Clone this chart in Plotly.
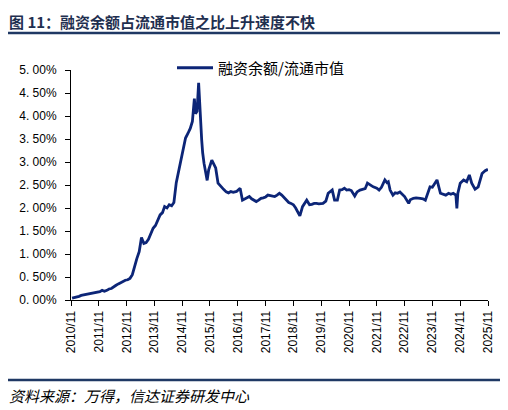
import plotly.graph_objects as go

dates = [
    "2010-11-15","2010-12-15","2011-01-15","2011-02-15","2011-03-15","2011-04-15","2011-05-15",
    "2011-06-15","2011-07-15","2011-08-15","2011-09-15","2011-10-15","2011-11-15","2011-12-15",
    "2012-01-15","2012-02-15","2012-03-15","2012-04-15","2012-05-15","2012-06-15","2012-07-15",
    "2012-08-15","2012-09-15","2012-10-15","2012-11-15","2012-12-15","2013-01-15","2013-02-15",
    "2013-03-15","2013-04-15","2013-05-15","2013-06-15","2013-07-15","2013-08-15","2013-09-15",
    "2013-10-15","2013-11-15","2013-12-15","2014-01-15","2014-02-15","2014-03-15","2014-04-15",
    "2014-05-15","2014-06-15","2014-07-15","2014-08-15","2014-09-15","2014-10-15","2014-11-15",
    "2014-12-15","2015-01-15","2015-02-15","2015-03-15","2015-04-10","2015-04-25","2015-05-15",
    "2015-06-05","2015-06-25","2015-07-15","2015-07-28","2015-08-15","2015-09-25","2015-10-15",
    "2015-11-25","2015-12-20","2016-01-15","2016-02-15","2016-03-25","2016-05-01","2016-06-01",
    "2016-07-01","2016-08-01","2016-09-01","2016-10-15","2016-12-01","2017-01-01","2017-02-01",
    "2017-03-01","2017-04-01","2017-05-01","2017-06-01","2017-07-01","2017-08-01","2017-09-01",
    "2017-10-01","2017-11-01","2017-12-01","2018-01-01","2018-02-01","2018-03-01","2018-04-01",
    "2018-05-01","2018-06-01","2018-07-01","2018-08-01","2018-09-01","2018-10-01","2018-11-01",
    "2018-12-01","2019-01-25","2019-02-15","2019-03-01","2019-04-25","2019-06-01","2019-07-01",
    "2019-08-01","2019-09-01","2019-10-01","2019-11-25","2020-01-01","2020-02-01","2020-03-25",
    "2020-04-25","2020-06-01","2020-07-01","2020-08-01","2020-09-01","2020-10-01","2020-11-01",
    "2020-12-01","2021-01-15","2021-02-15","2021-03-25","2021-05-01","2021-06-01","2021-07-01",
    "2021-08-01","2021-09-15","2021-11-01","2021-12-01","2022-01-01","2022-02-15","2022-03-15",
    "2022-04-01","2022-04-25","2022-06-01","2022-07-01","2022-08-01","2022-09-01","2022-10-01",
    "2022-11-01","2022-12-25","2023-01-15","2023-02-25","2023-04-01","2023-05-25","2023-07-01",
    "2023-08-01","2023-09-01","2023-10-01","2023-11-01","2023-12-01","2024-01-01","2024-02-15",
    "2024-03-15","2024-04-25","2024-06-01","2024-07-01","2024-08-01","2024-09-05","2024-09-18",
    "2024-10-01","2024-11-01","2024-12-15","2025-01-25","2025-03-01","2025-04-01","2025-05-15",
    "2025-06-25","2025-07-20","2025-08-15","2025-09-25","2025-10-31",
]

ratio_pct = [
    0.04,0.05,0.07,0.08,0.10,0.11,0.12,
    0.13,0.14,0.16,0.17,0.17,0.18,0.21,
    0.19,0.21,0.24,0.25,0.29,0.32,0.35,
    0.38,0.40,0.43,0.44,0.47,0.55,0.75,
    0.90,1.05,1.36,1.23,1.25,1.32,1.45,
    1.56,1.62,1.74,1.85,1.90,2.03,2.00,
    2.07,2.05,2.12,2.55,2.80,3.00,3.33,
    3.52,3.62,3.73,3.88,4.38,4.05,4.10,
    4.72,3.90,3.48,3.20,2.97,2.60,2.83,
    3.04,2.95,2.87,2.54,2.46,2.40,2.35,
    2.33,2.36,2.34,2.36,2.43,2.17,2.20,
    2.22,2.25,2.20,2.16,2.14,2.17,2.21,
    2.22,2.24,2.28,2.27,2.25,2.25,2.28,
    2.32,2.28,2.22,2.17,2.12,2.10,2.07,
    2.00,1.83,1.95,2.03,2.17,2.07,2.08,
    2.10,2.10,2.09,2.10,2.15,2.32,2.39,
    2.17,2.17,2.39,2.40,2.43,2.39,2.40,
    2.38,2.26,2.35,2.39,2.40,2.42,2.54,
    2.50,2.46,2.43,2.39,2.45,2.61,2.55,
    2.57,2.39,2.28,2.33,2.32,2.35,2.30,
    2.25,2.10,2.18,2.21,2.22,2.21,2.20,
    2.17,2.30,2.46,2.45,2.52,2.61,2.32,
    2.30,2.28,2.32,2.30,2.32,2.28,1.99,
    2.32,2.54,2.61,2.57,2.72,2.54,2.41,
    2.46,2.60,2.75,2.81,2.84,
]

x_tick_dates = [f"{y}-11-01" for y in range(2010, 2026)]
x_tick_labels = [f"{y}/11" for y in range(2010, 2026)]
y_tick_vals = [0, 0.5, 1, 1.5, 2, 2.5, 3, 3.5, 4, 4.5, 5]
y_tick_labels = [f"{v:.2f}".replace(".", ". ") + "%" for v in y_tick_vals]

series_name = "融资余额/流通市值"
title_text = "图 11：融资余额占流通市值之比上升速度不快"
source_text = "资料来源：万得，信达证券研发中心"

NAVY = "#0c2577"
RULE = "#1f3864"
TITLE_C = "#1f2f50"

# page offset (body margin) so that reference pixel coordinates map correctly
OFF = 8
L_ref, R_ref, T_ref, B_ref = 71, 488, 70, 300
W, H = 508 - OFF, 410 - OFF
L = L_ref - OFF
T = T_ref - OFF
pw = R_ref - L_ref
ph = B_ref - T_ref
R = W - L - pw
B = H - T - ph

def px(xref):
    return (xref - L_ref) / pw

def py(yref):
    return (B_ref - yref) / ph

fig = go.Figure()
fig.add_trace(go.Scatter(
    x=dates, y=ratio_pct, mode="lines", name=series_name,
    line=dict(color=NAVY, width=2.8),
))

fig.update_layout(
    width=W, height=H,
    margin=dict(l=L, r=R, t=T, b=B, pad=0),
    paper_bgcolor="white", plot_bgcolor="white",
    font=dict(family="Liberation Sans, Arial, sans-serif", size=12, color="#000000"),
    showlegend=True,
    legend=dict(
        x=px(172), y=py(68), xanchor="left", yanchor="middle",
        bgcolor="rgba(0,0,0,0)", borderwidth=0, itemwidth=36,
        font=dict(family="Noto Sans CJK SC, sans-serif", size=15, color="#000000"),
    ),
    xaxis=dict(
        type="date", range=["2010-11-01", "2025-11-01"],
        tickmode="array", tickvals=x_tick_dates, ticktext=x_tick_labels,
        tickangle=-90, ticks="outside", ticklen=5, tickcolor="#000000",
        showline=True, linecolor="#000000", linewidth=1,
        showgrid=False, zeroline=False,
        tickfont=dict(family="Liberation Sans, Arial, sans-serif", size=12, color="#000000"),
    ),
    yaxis=dict(
        range=[0, 5], tickmode="array", tickvals=y_tick_vals, ticktext=y_tick_labels,
        ticks="outside", ticklen=5, tickcolor="#000000",
        showline=True, linecolor="#000000", linewidth=1,
        showgrid=False, zeroline=False, ticklabelstandoff=6,
        tickfont=dict(family="Liberation Sans, Arial, sans-serif", size=12, color="#000000"),
    ),
    shapes=[
        dict(type="line", xref="paper", yref="paper", x0=px(6), x1=px(502),
             y0=py(33), y1=py(33), line=dict(color=RULE, width=2.5)),
        dict(type="line", xref="paper", yref="paper", x0=px(6), x1=px(502),
             y0=py(380), y1=py(380), line=dict(color=RULE, width=2.5)),
    ],
    annotations=[
        dict(text=f"<b>{title_text}</b>", xref="paper", yref="paper",
             x=px(7), y=py(OFF + 1), xanchor="left", yanchor="top", showarrow=False,
             font=dict(family="Noto Sans CJK SC, sans-serif", size=15, color=TITLE_C)),
        dict(text=source_text, xref="paper", yref="paper",
             x=px(7), y=py(395), xanchor="left", yanchor="middle", showarrow=False,
             font=dict(family="Noto Sans CJK SC, sans-serif", size=15, color="#000000", style="italic")),
    ],
)

fig.write_html("out.html")
